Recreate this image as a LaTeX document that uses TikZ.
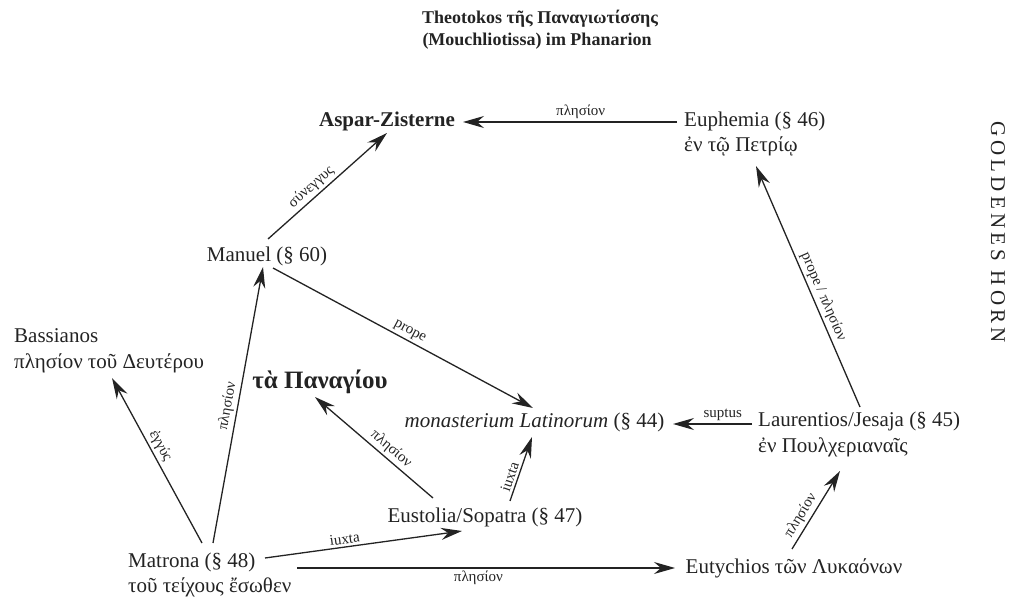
\documentclass[tikz,border=0pt]{standalone}
\usepackage{fontspec}
\setmainfont{Liberation Serif}
\usetikzlibrary{arrows.meta,calc}
\definecolor{ink}{RGB}{35,35,35}
\newcommand\nodefs{\fontsize{21}{25}\selectfont}
\newcommand\edgefs{\fontsize{15}{15}\selectfont}
\newcommand\titlefs{\fontsize{18}{22}\selectfont\bfseries}
\newcommand\hornfs{\fontsize{21}{21}\selectfont\addfontfeature{LetterSpace=20}}
\newcommand\panfs{\fontsize{25}{27}\selectfont\bfseries}
\begin{document}
\begin{tikzpicture}[x=1pt,y=-1pt,
  txt/.style={inner sep=0pt, text=ink},
  arr/.style={draw=ink, line width=1.3pt, -{Stealth[length=21pt,width=12pt,inset=7pt]}},
  lbl/.style={font=\edgefs, text=ink, inner sep=2.5pt, sloped},
]
\useasboundingbox (0,0) rectangle (1010,601);
% title
\node[txt, font=\titlefs, anchor=base] (t1) at (540,24) {Theotokos τῆς Παναγιωτίσσης};
\node[txt, font=\titlefs, anchor=base] (t2) at (537,46) {(Mouchliotissa) im Phanarion};
% places
\node[txt, font=\nodefs\bfseries, anchor=base] (asp) at (387,127) {Aspar-Zisterne};
\node[txt, font=\nodefs, anchor=base west] (euph) at (684,127) {Euphemia (§ 46)};
\node[txt, font=\nodefs, anchor=base west] (euph2) at (684,152) {ἐν τῷ Πετρίῳ};
\node[txt, font=\nodefs, anchor=base] (man) at (267,262) {Manuel (§ 60)};
\node[txt, font=\nodefs, anchor=base west] (bas) at (14,343) {Bassianos};
\node[txt, font=\nodefs, anchor=base west] (bas2) at (14,369) {πλησίον τοῦ Δευτέρου};
\node[txt, font=\panfs, anchor=base] (pan) at (320,389) {τὰ Παναγίου};
\node[txt, font=\nodefs, anchor=base] (mon) at (534.5,428) {\itshape monasterium Latinorum\upshape{} (§ 44)};
\node[txt, font=\nodefs, anchor=base west] (laur) at (758,427) {Laurentios/Jesaja (§ 45)};
\node[txt, font=\nodefs, anchor=base west] (laur2) at (758,453) {ἐν Πουλχεριαναῖς};
\node[txt, font=\nodefs, anchor=base] (eus) at (485,522) {Eustolia/Sopatra (§ 47)};
\node[txt, font=\nodefs, anchor=base west] (mat) at (128,567) {Matrona (§ 48)};
\node[txt, font=\nodefs, anchor=base west] (mat2) at (128,592) {τοῦ τείχους ἔσωθεν};
\node[txt, font=\nodefs, anchor=base] (eut) at (794,573) {Eutychios τῶν Λυκαόνων};
\node[txt, font=\hornfs, rotate=-90] (horn) at (998,232) {GOLDENES HORN};
% connectors
\draw[arr] ($(euph.base west)+(-7,-5)$) -- node[lbl, pos=0.45, above] {πλησίον} ($(asp.base)+(76,-5)$);
\draw[arr] ($(man.base)+(1,-23)$) -- node[lbl, pos=0.42, above] {σύνεγγυς} ($(asp.base)+(0,6)$);
\draw[arr] ($(man.base)+(6,6)$) -- node[lbl, pos=0.51, above] {prope} ($(mon.base)+(-1.5,-20)$);
\draw[arr] ($(mat.base west)+(85,-24)$) -- node[lbl, pos=0.49, above] {πλησίον} ($(man.base)+(-4,5)$);
\draw[arr] ($(mat.base west)+(74,-24)$) -- node[lbl, pos=0.56, above] {ἐγγύς} ($(bas2.base west)+(98,9)$);
\draw[arr] ($(eus.base)+(-52,-24)$) -- node[lbl, pos=0.41, above] {πλησίον} ($(pan.base)+(-5,8)$);
\draw[arr] ($(eus.base)+(25,-21)$) -- node[lbl, pos=0.34, above] {iuxta} ($(mon.base)+(-2.5,9)$);
\draw[arr] ($(laur.base west)+(-6,-3)$) -- node[lbl, pos=0.37, above] {suptus} ($(mon.base)+(138.5,-4)$);
\draw[arr] ($(laur.base west)+(102,-20)$) -- node[lbl, pos=0.44, above] {prope / πλησίον} ($(euph2.base west)+(72,14)$);
\draw[arr] ($(mat.base west)+(137,-9)$) -- node[lbl, pos=0.41, above] {iuxta} ($(eus.base)+(-23,9)$);
\draw[arr] ($(mat.base west)+(169,1)$) -- node[lbl, pos=0.48, below] {πλησίον} ($(eut.base)+(-119,-5)$);
\draw[arr] ($(eut.base)+(-2,-24)$) -- node[lbl, pos=0.36, above] {πλησίον} ($(laur2.base west)+(82,18)$);
\end{tikzpicture}
\end{document}
